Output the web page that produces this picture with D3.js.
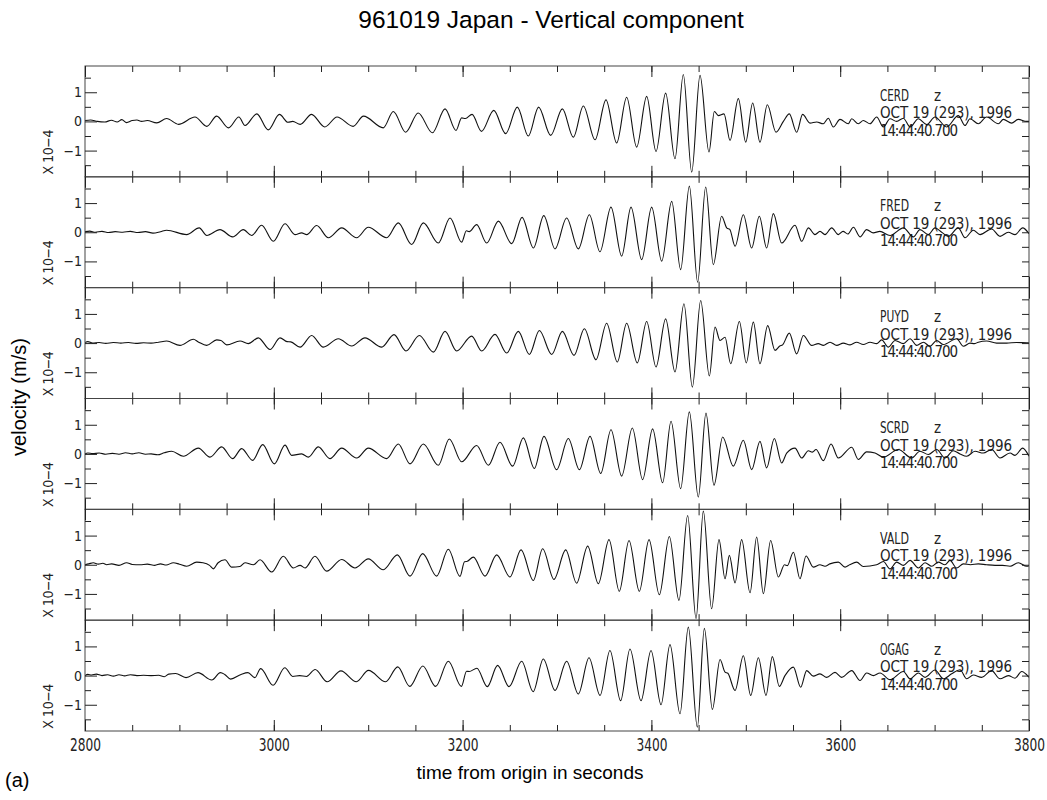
<!DOCTYPE html>
<html lang="en">
<head>
<meta charset="UTF-8">
<title>961019 Japan - Vertical component</title>
<style>
  body { margin: 0; background: #fff; }
  svg { display: block; }
</style>
</head>
<body>
<script src="https://d3js.org/d3.v7.min.js"></script>
<script>
const stations = ['CERD', 'FRED', 'PUYD', 'SCRD', 'VALD', 'OGAG'];
const dateLine = 'OCT 19 (293), 1996';
const timeLine = '14:44:40.700';
const xTickValues = [2800, 3000, 3200, 3400, 3600, 3800];
const yTickValues = [-1, 0, 1];

// peaks and troughs: [time from origin (s), velocity (x 1e-4 m/s)]
const cerd = [[2800,0.03],[2806,0.05],[2813,0.0],[2821,-0.02],[2828,0.04],[2834,-0.02],[2839,0.06],[2844,-0.04],[2850,0.03],[2855,0.05],[2860,0.0],[2866,0.03],[2876,-0.05],
  [2886.5,0.10],[2899,-0.10],[2916.5,0.15],[2929,-0.17],[2939.5,0.18],[2952,-0.22],[2963,0.15],[2969.5,-0.14],[2982,0.26],[2994,-0.29],[3006,0.24],[3015,-0.03],[3020,0.0],[3028,-0.10],
  [3040,0.24],[3054,-0.19],[3067,0.15],[3084,-0.17],[3095,0.18],[3116,-0.22],[3126.6,0.34],[3139.7,-0.37],[3153,0.29],[3168,-0.39],[3181.4,0.43],[3193,-0.31],[3199,0.12],[3203,0.10],
  [3210,0.24],[3220,-0.34],[3233,0.38],[3245.6,-0.42],[3258,0.49],[3269.6,-0.50],[3280.5,0.49],[3293.3,-0.48],[3305.7,0.43],[3317.3,-0.54],[3327.9,0.53],[3340.3,-0.63],
  [3351.9,0.74],[3363.2,-0.74],[3373.8,0.83],[3384.4,-0.88],[3395,0.86],[3404.9,-1.03],[3415.1,0.97],[3425,-1.28],[3433.8,1.61],[3442.7,-1.74],[3451.5,1.58],[3461,-1.05],
  [3466.7,0.34],[3470.9,0.20],[3476.9,0.26],[3483.3,-0.65],[3492.1,0.78],[3499.9,-0.71],[3507.3,0.63],[3515,-0.71],[3522.8,0.57],[3532,-0.37],[3539.8,0.0],[3546.1,0.26],
  [3553.9,-0.37],[3560.2,0.24],[3568,-0.06],[3575,-0.02],[3582,-0.08],[3587.4,0.11],[3592.7,-0.19],[3599.8,0.07],[3608.6,-0.08],[3612.2,0.09],[3619.2,-0.08],[3624.5,0.03],
  [3631.6,-0.08],[3638.6,0.15],[3645.7,-0.19],[3652.8,0.09],[3659.8,0.0],[3666.9,0.11],[3674,-0.19],[3682.8,0.09],[3691.6,-0.11],[3700.4,0.15],[3712.8,-0.19],[3725.1,0.20],
  [3732.2,-0.14],[3737.5,0.09],[3746.3,-0.08],[3755.1,0.15],[3767.5,-0.08],[3772.8,0.07],[3781.6,-0.06],[3788.7,0.07],[3797.5,0.0],[3800,0.0]];

const fred = [[2800,0.02],[2805,0.04],[2811,0.0],[2818,0.03],[2825,-0.01],[2832,0.02],[2840,0.0],[2848,0.03],[2856,-0.01],[2864,0.02],[2872,-0.03],[2880,0.02],
  [2886.5,0.07],[2907.7,-0.08],[2921,0.15],[2929,-0.11],[2943,0.09],[2956.4,-0.16],[2967.7,0.09],[2976.6,-0.11],[2987.1,0.24],[2999.5,-0.31],[3011.9,0.29],[3022.5,-0.08],
  [3029.5,-0.02],[3034.8,-0.08],[3045.4,0.23],[3057.8,-0.19],[3071.9,0.15],[3087.8,-0.19],[3100.1,0.17],[3119.6,-0.19],[3131.9,0.32],[3146,-0.42],[3158.4,0.32],[3174.3,-0.37],
  [3186.7,0.49],[3199,-0.34],[3204,0.05],[3207,0.02],[3214.9,0.26],[3225.5,-0.37],[3237.9,0.38],[3252,-0.39],[3263,0.51],[3275,-0.54],[3286,0.57],[3297.9,-0.57],[3310.2,0.49],
  [3322.6,-0.57],[3334.3,0.60],[3345.5,-0.67],[3357.2,0.86],[3368.5,-0.82],[3378.4,0.86],[3389.7,-0.94],[3400.3,0.86],[3410.9,-0.99],[3421.5,1.06],[3431,-1.28],[3440.2,1.58],
  [3449,-1.71],[3457.5,1.55],[3465.6,-1.11],[3474.4,0.55],[3480,0.14],[3483,0.10],[3488.6,-0.48],[3497.4,0.60],[3506.2,-0.54],[3514.3,0.55],[3522.1,-0.54],[3529.2,0.64],
  [3538,-0.37],[3552.1,0.24],[3559.2,-0.31],[3566.3,0.15],[3573.3,-0.08],[3578.6,0.03],[3583.9,-0.08],[3591,0.15],[3598,-0.08],[3603,0.03],[3608,-0.06],[3614,0.17],[3621,-0.16],
  [3628,0.09],[3635,-0.02],[3642,0.03],[3652.8,-0.11],[3667,0.15],[3677.5,-0.16],[3684.5,0.09],[3693.4,-0.08],[3700.4,0.15],[3707.5,0.0],[3714.6,-0.14],[3725.1,0.15],
  [3732.2,-0.19],[3741,0.07],[3748.1,-0.08],[3760.4,0.11],[3769.3,-0.14],[3778.1,0.0],[3785.2,-0.08],[3793.3,0.15],[3800,-0.05]];

const puyd = [[2800,0.02],[2803,0.05],[2808,0.0],[2815,0.02],[2822,-0.01],[2830,0.02],[2838,0.0],[2846,0.02],[2854,-0.01],[2862,0.01],[2870,0.0],[2878,0.03],
  [2886.5,0.07],[2900.6,-0.08],[2914.8,0.13],[2920,0.04],[2928.9,-0.08],[2939.5,0.11],[2944,0.09],[2950.1,-0.06],[2964.2,0.07],[2973,-0.02],[2983.6,0.18],[2996,-0.22],
  [3006.6,0.18],[3014,0.05],[3018,0.04],[3027.8,-0.14],[3040.1,0.26],[3052.5,-0.14],[3068.4,0.15],[3082.5,-0.10],[3096.6,0.18],[3114.3,-0.14],[3127.3,0.29],[3140,-0.27],
  [3154.2,0.26],[3169,-0.31],[3181.4,0.40],[3193.7,-0.27],[3209.6,0.24],[3220.2,-0.27],[3234.3,0.30],[3246.7,-0.34],[3259,0.40],[3270.7,-0.39],[3281.3,0.43],[3294.4,-0.39],
  [3305.7,0.40],[3318,-0.42],[3329,0.49],[3341.3,-0.57],[3352.6,0.68],[3363.9,-0.65],[3373.8,0.68],[3385.1,-0.68],[3395,0.74],[3404.9,-0.82],[3415.1,0.83],[3425,-0.99],
  [3434.5,1.35],[3443.4,-1.51],[3452.2,1.46],[3461.4,-1.13],[3467.4,0.55],[3472.7,0.09],[3478,0.20],[3484,-0.71],[3493.2,0.74],[3500.5,-0.68],[3508,0.72],[3515,-0.71],
  [3523.2,0.60],[3530.9,-0.25],[3536,-0.10],[3539,-0.06],[3546.1,0.34],[3553.9,-0.37],[3561,0.26],[3569.8,-0.08],[3576.8,-0.02],[3582.1,-0.08],[3589.2,0.03],[3596.3,-0.08],
  [3603.3,0.0],[3610.4,-0.06],[3617.4,0.03],[3624.5,-0.05],[3631.6,0.03],[3638.6,-0.02],[3643.9,0.11],[3651,-0.14],[3658.1,0.09],[3666.9,-0.02],[3674,0.15],[3681,-0.08],
  [3688.1,0.03],[3695.1,-0.11],[3702.2,0.09],[3709.3,-0.05],[3723.4,0.15],[3730.5,-0.11],[3737.5,0.0],[3742,-0.02],[3746.3,0.03],[3755.1,0.07],[3765.7,0.0],[3776.3,0.0],
  [3786.9,0.02],[3797.5,0.01],[3800,0.01]];

const scrd = [[2800,0.0],[2803,0.03],[2808,0.01],[2815,0.03],[2822,-0.01],[2829,0.02],[2836,-0.01],[2843,0.04],[2850,0.0],[2857,0.04],[2864,-0.01],[2870,0.0],[2877,-0.03],[2884,0.04],
  [2891.8,0.09],[2904.2,-0.08],[2920.1,0.20],[2932.4,-0.11],[2944.8,0.24],[2956.4,-0.16],[2966,0.18],[2977.6,-0.22],[2988.2,0.32],[3000.6,-0.34],[3011.9,0.30],[3018.9,-0.05],
  [3029.5,0.0],[3036.6,-0.11],[3047.2,0.24],[3059.5,-0.16],[3071.9,0.20],[3087.8,-0.14],[3100.1,0.20],[3119.6,-0.16],[3131.9,0.34],[3144.3,-0.34],[3158.4,0.34],[3174.3,-0.39],
  [3185.9,0.51],[3199,-0.27],[3214.9,0.29],[3227.3,-0.39],[3239.6,0.40],[3253,-0.42],[3264.3,0.55],[3276,-0.50],[3286.2,0.60],[3299.6,-0.54],[3312,0.53],[3323.7,-0.54],
  [3335,0.60],[3346.3,-0.67],[3357.2,0.83],[3368.5,-0.76],[3379.8,0.89],[3390.7,-0.88],[3401.3,0.86],[3411.9,-0.99],[3420.8,1.12],[3431,-1.19],[3440.2,1.44],[3449.7,-1.48],
  [3457.8,1.40],[3466.3,-1.07],[3475.5,0.58],[3486.8,-0.42],[3497.4,0.47],[3506.2,-0.54],[3515,0.43],[3522.1,-0.48],[3530.2,0.53],[3538,-0.31],[3543.3,0.03],[3552.1,0.20],
  [3559.2,-0.14],[3566.3,0.11],[3570.5,0.06],[3574.4,0.15],[3582.1,-0.23],[3590.3,0.34],[3598,-0.14],[3612.2,0.23],[3619.2,-0.19],[3628,0.07],[3636.9,0.03],[3645.7,-0.11],
  [3661.6,0.15],[3675.7,-0.14],[3684.5,0.09],[3693.4,-0.02],[3702.2,0.15],[3711,-0.14],[3719.8,0.11],[3726.9,0.0],[3734,-0.08],[3742.8,0.09],[3751.6,0.03],[3760.4,0.15],
  [3769.3,-0.14],[3779.9,0.03],[3785.2,-0.05],[3793.3,0.20],[3800,-0.08]];

const vald = [[2800,0.0],[2804,0.03],[2808.8,0.07],[2814,0.02],[2819,0.05],[2823,0.0],[2828.2,0.03],[2836,-0.02],[2844.1,0.07],[2850,0.01],[2858.3,0.0],[2866,0.02],[2874,-0.02],
  [2880,0.03],[2886,-0.01],[2893.6,0.07],[2900,0.02],[2907.7,-0.05],[2918.3,0.09],[2925,0.07],[2932,-0.02],[2936,-0.14],[2941,0.07],[2948.3,0.17],[2955.4,-0.08],[2964,-0.06],
  [2969.5,0.07],[2978.3,0.0],[2985.4,0.17],[2997.7,-0.25],[3010.1,0.29],[3020.7,-0.11],[3027.8,-0.02],[3033.1,-0.11],[3043.6,0.29],[3056,-0.22],[3071.9,0.18],[3086,-0.11],
  [3100.1,0.20],[3116,-0.17],[3130.9,0.34],[3144.3,-0.39],[3157.7,0.38],[3172.5,-0.39],[3184.9,0.53],[3197.2,-0.40],[3202,0.10],[3205,0.12],[3211.4,0.26],[3223.7,-0.39],
  [3236.1,0.34],[3250.2,-0.42],[3261.9,0.51],[3274.9,-0.54],[3284.8,0.55],[3296.8,-0.50],[3309.2,0.51],[3320.8,-0.63],[3332.5,0.64],[3343.8,-0.65],[3355.1,0.86],[3366,-0.91],
  [3376.3,0.83],[3387.2,-0.91],[3397.5,0.86],[3408.4,-1.03],[3419,0.97],[3429.2,-1.22],[3438.4,1.69],[3447.3,-1.85],[3455,1.84],[3463.8,-1.51],[3471.6,0.86],[3478,-0.48],
  [3482.6,0.32],[3488.6,-0.62],[3495.6,0.86],[3504.5,-0.96],[3511.5,0.95],[3518.6,-0.99],[3526.3,0.83],[3534.5,-0.42],[3541,0.0],[3544,-0.03],[3550.4,0.43],[3557.4,-0.48],
  [3563.8,0.30],[3571.5,-0.08],[3578.6,0.0],[3583.9,-0.05],[3589,0.03],[3598,0.09],[3605.1,-0.08],[3610,0.0],[3617.4,0.09],[3624.5,-0.06],[3638.6,0.0],[3645.7,0.11],
  [3652.8,-0.14],[3659.8,0.09],[3666.9,-0.02],[3674,0.15],[3682.8,-0.11],[3689.9,0.07],[3697,-0.05],[3704,0.09],[3711,0.0],[3716.3,0.15],[3723.4,-0.11],[3730.5,0.03],
  [3738,0.0],[3746.3,0.03],[3755,0.0],[3764,-0.02],[3772,-0.02],[3779.9,-0.05],[3788.7,0.07],[3797.5,-0.05],[3800,-0.04]];

const ogag = [[2800,0.0],[2803,0.04],[2807,0.02],[2812,0.05],[2818,0.0],[2824,0.03],[2830,-0.02],[2836,0.03],[2842,-0.01],[2848,0.03],[2855,0.0],[2862,0.01],[2870,0.0],[2878,0.01],
  [2884,-0.04],[2888.7,0.05],[2896,0.07],[2907,-0.07],[2919.7,0.10],[2934.3,-0.15],[2943.4,0.10],[2948,0.04],[2954.3,-0.12],[2965.3,0.04],[2972.6,0.10],[2979.9,-0.07],
  [2986.1,0.24],[2999.2,-0.33],[3011.7,0.27],[3020,-0.03],[3027.3,0.0],[3034.6,-0.03],[3043.8,0.21],[3056.5,-0.21],[3071.1,0.16],[3087.5,-0.21],[3100.3,0.18],[3118.5,-0.21],
  [3131.3,0.30],[3144,-0.37],[3157.9,0.33],[3171.4,-0.37],[3184.9,0.49],[3198.7,-0.37],[3204.2,0.15],[3207,0.14],[3215.1,0.25],[3226.2,-0.38],[3237.1,0.35],[3249.2,-0.38],
  [3262.6,0.49],[3274.7,-0.55],[3285.5,0.57],[3297.9,-0.51],[3310.2,0.49],[3322.6,-0.63],[3333.9,0.61],[3345.6,-0.68],[3356.1,0.86],[3367.4,-0.86],[3377.3,0.91],[3389,-0.86],
  [3399.6,0.86],[3410.2,-1.00],[3419.7,1.06],[3430.3,-1.31],[3439.1,1.66],[3448.7,-1.77],[3456.1,1.62],[3464.6,-1.16],[3472.7,0.55],[3478,0.12],[3481,0.08],[3488.6,-0.51],
  [3497.4,0.68],[3505.2,-0.68],[3513.3,0.61],[3521.4,-0.68],[3528.1,0.65],[3535.5,-0.37],[3541.5,0.0],[3550.4,0.29],[3558.1,-0.40],[3564.5,0.17],[3571.5,-0.02],[3578.6,0.06],
  [3585.7,-0.06],[3594.5,0.11],[3601.6,-0.06],[3612.2,0.17],[3621,-0.17],[3628,0.09],[3635.1,0.0],[3642.2,0.09],[3652.8,-0.14],[3666.9,0.14],[3674,-0.11],[3682.8,0.09],
  [3689.9,-0.06],[3700.4,0.19],[3709.3,-0.11],[3718.1,0.06],[3726.9,0.20],[3734,-0.11],[3741,0.02],[3749.9,-0.06],[3760.4,0.17],[3769.3,-0.11],[3778.1,0.0],[3785.2,-0.09],
  [3792.2,0.14],[3800,-0.06]];

const traces = [cerd, fred, puyd, scrd, vald, ogag];

const width = 1047, height = 800;
const plot = { left: 85, right: 1029, top: 66, bottom: 731 };
const panelH = (plot.bottom - plot.top) / stations.length;

const narrow = '"Liberation Sans Narrow", "DejaVu Sans Condensed", sans-serif';
const plain = '"Liberation Sans", Arial, Helvetica, sans-serif';
const ink = '#222';

const svg = d3.select('body').append('svg').attr('width', width).attr('height', height);

const x = d3.scaleLinear().domain([2800, 3800]).range([plot.left, plot.right]);
const y = d3.scaleLinear().domain([-1.9, 1.9]).range([panelH, 0]);

const minorX = d3.range(2800, 3801, 50);
const minorY = [-1.5, -0.5, 0.5, 1.5];
const allY = [-1.5, -1, -0.5, 0, 0.5, 1, 1.5];

svg.append('defs').append('clipPath').attr('id', 'panel-clip')
  .append('rect').attr('x', plot.left).attr('y', 0)
  .attr('width', plot.right - plot.left).attr('height', panelH);

const line = d3.line()
  .x(d => x(d[0]))
  .y(d => y(d[1]))
  .curve(d3.curveMonotoneX);

function tidy(g) {
  g.select('.domain').remove();
  g.selectAll('.tick line').attr('stroke', ink);
}

stations.forEach((name, i) => {
  const g = svg.append('g').attr('transform', `translate(0,${plot.top + i * panelH})`);

  // station header
  const lab = g.append('g').attr('font-family', narrow).attr('fill', ink).attr('font-size', 15);
  lab.append('text').attr('x', 880).attr('y', 34.5).attr('textLength', 29)
    .attr('lengthAdjust', 'spacingAndGlyphs').text(name);
  lab.append('text').attr('x', 934).attr('y', 34.5).text('z');
  lab.append('text').attr('x', 880).attr('y', 52).attr('textLength', 132)
    .attr('lengthAdjust', 'spacing').text(dateLine);
  lab.append('text').attr('x', 880).attr('y', 69.5).attr('textLength', 78)
    .attr('lengthAdjust', 'spacing').text(timeLine);

  // trace
  g.append('path')
    .datum(traces[i])
    .attr('clip-path', 'url(#panel-clip)')
    .attr('fill', 'none')
    .attr('stroke', '#111')
    .attr('stroke-width', 1.1)
    .attr('stroke-linejoin', 'round')
    .attr('d', line);

  // frame
  g.append('rect')
    .attr('x', plot.left).attr('y', 0)
    .attr('width', plot.right - plot.left).attr('height', panelH)
    .attr('fill', 'none').attr('stroke', '#444').attr('stroke-width', 1);

  // inward ticks on all four sides
  g.append('g').call(d3.axisBottom(x).tickValues(minorX).tickSize(6).tickFormat('')).call(tidy);
  g.append('g').call(d3.axisBottom(x).tickValues(xTickValues).tickSize(11).tickFormat('')).call(tidy);
  g.append('g').attr('transform', `translate(0,${panelH})`)
    .call(d3.axisTop(x).tickValues(minorX).tickSize(6).tickFormat('')).call(tidy);
  g.append('g').attr('transform', `translate(0,${panelH})`)
    .call(d3.axisTop(x).tickValues(xTickValues).tickSize(11).tickFormat('')).call(tidy);

  g.append('g').attr('transform', `translate(${plot.left},0)`)
    .call(d3.axisRight(y).tickValues(minorY).tickSize(6).tickFormat('')).call(tidy);
  g.append('g').attr('transform', `translate(${plot.left},0)`)
    .call(d3.axisRight(y).tickValues(yTickValues).tickSize(12).tickFormat('')).call(tidy);
  g.append('g').attr('transform', `translate(${plot.right},0)`)
    .call(d3.axisLeft(y).tickValues(allY).tickSize(7).tickFormat('')).call(tidy);

  // y tick labels
  g.append('g').attr('transform', `translate(${plot.left},0)`)
    .call(d3.axisLeft(y).tickValues(yTickValues).tickSize(0).tickPadding(3)
      .tickFormat(d => d < 0 ? '\u2212' + (-d) : d))
    .call(a => a.select('.domain').remove())
    .call(a => a.selectAll('text').attr('font-family', narrow).attr('font-size', 14).attr('fill', ink));

  // exponent note
  g.append('text')
    .attr('transform', `translate(53,${86}) rotate(-90)`)
    .attr('text-anchor', 'middle')
    .attr('font-family', narrow).attr('font-size', 14).attr('fill', ink)
    .attr('textLength', 45).attr('lengthAdjust', 'spacing')
    .text('X 10\u22124');

  if (i === stations.length - 1) {
    g.append('g').attr('transform', `translate(0,${panelH})`)
      .call(d3.axisBottom(x).tickValues(xTickValues).tickSize(0).tickPadding(8).tickFormat(d3.format('d')))
      .call(a => a.select('.domain').remove())
      .call(a => a.selectAll('text')
        .attr('font-family', narrow).attr('font-size', 17).attr('fill', ink)
        .attr('textLength', 31).attr('lengthAdjust', 'spacingAndGlyphs'));
  }
});

// titles
svg.append('text')
  .attr('x', 551).attr('y', 28)
  .attr('text-anchor', 'middle')
  .attr('font-family', plain).attr('font-size', 24.5)
  .text('961019 Japan - Vertical component');

svg.append('text')
  .attr('x', 530).attr('y', 779)
  .attr('text-anchor', 'middle')
  .attr('font-family', plain).attr('font-size', 19)
  .text('time from origin in seconds');

svg.append('text')
  .attr('transform', 'translate(26,397) rotate(-90)')
  .attr('text-anchor', 'middle')
  .attr('font-family', plain).attr('font-size', 20)
  .text('velocity (m/s)');

svg.append('text')
  .attr('x', 5).attr('y', 787)
  .attr('font-family', plain).attr('font-size', 20)
  .text('(a)');
</script>
</body>
</html>
